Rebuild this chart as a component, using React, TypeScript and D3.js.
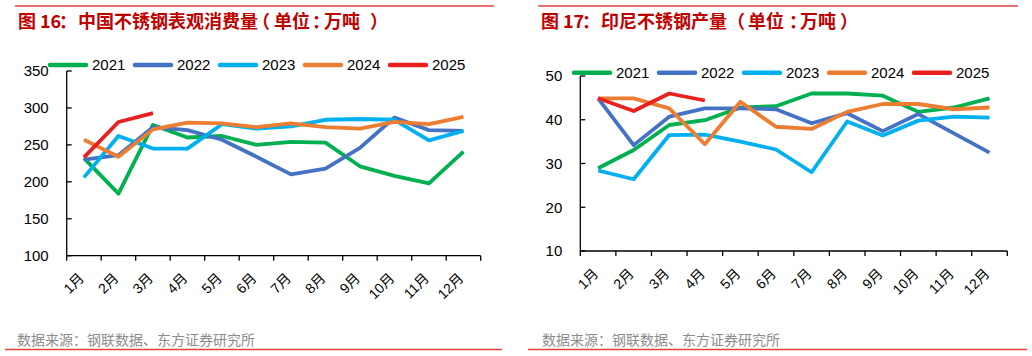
import React from "react";
import * as d3 from "d3";

const months = ["1月", "2月", "3月", "4月", "5月", "6月", "7月", "8月", "9月", "10月", "11月", "12月"];
const years = ["2021", "2022", "2023", "2024", "2025"];
const colors = ["#00b050", "#4472c4", "#00b0f0", "#ed7d31", "#e8201e"];

// 图16 中国不锈钢表观消费量
const cn2021 = [232, 184, 277, 260, 262, 250, 254, 253, 221, 208, 198, 241];
const cn2022 = [230, 236, 274, 270, 257, 234, 210, 218, 246, 287, 270, 269];
const cn2023 = [206, 262, 245, 245, 278, 272, 275, 284, 285, 284, 256, 269];
const cn2024 = [257, 234, 271, 280, 279, 274, 279, 274, 272, 281, 278, 288];
const cn2025 = [233, 281, 293];
const cnTicks = [100, 150, 200, 250, 300, 350];

// 图17 印尼不锈钢产量
const id2021 = [28.9, 33.1, 38.8, 39.9, 42.8, 43.1, 46.0, 46.0, 45.5, 41.8, 42.8, 44.9];
const id2022 = [44.9, 34.2, 40.7, 42.6, 42.6, 42.4, 39.2, 41.5, 37.4, 41.3, 36.9, 32.5];
const id2023 = [28.4, 26.4, 36.5, 36.6, 35.0, 33.2, 28.0, 39.6, 36.4, 39.8, 40.7, 40.5];
const id2024 = [44.9, 44.9, 42.6, 34.4, 44.1, 38.4, 37.9, 41.8, 43.6, 43.6, 42.4, 42.8];
const id2025 = [44.9, 42.0, 46.0, 44.4];
const idTicks = [10, 20, 30, 40, 50];

const titleParts1 = ["图", "16", "：", "中国不锈钢表观消费量", "（", "单位", "：", "万吨", "）"];
const titleParts2 = ["图", "17", "：", "印尼不锈钢产量", "（", "单位", "：", "万吨", "）"];
const footText = "数据来源：钢联数据、东方证券研究所";

const numFont = "'Liberation Sans', Arial, 'Noto Sans CJK SC', sans-serif";
const cjkFont = "'Noto Sans CJK SC', sans-serif";

type PanelProps = {
  titleParts: string[];
  titleXs: number[];
  lineX1: number;
  lineX2: number;
  footX: number;
  bLineX1: number;
  bLineX2: number;
  axisX1: number;
  axisX2: number;
  yTop: number;
  yBottom: number;
  domain: [number, number];
  ticks: number[];
  series: number[][];
  legendX: number;
  legendY: number;
};

function Panel(p: PanelProps) {
  const x = d3.scaleBand<string>().domain(months).range([p.axisX1, p.axisX2]).padding(0);
  const y = d3.scaleLinear().domain(p.domain).range([p.yBottom, p.yTop]);
  const line = d3
    .line<number>()
    .x((_, i) => (x(months[i]) as number) + x.bandwidth() / 2)
    .y((d) => y(d));
  const tickXs = months.map((m) => x(m) as number).concat([p.axisX2]);
  return (
    <g>
      <line x1={p.lineX1} x2={p.lineX2} y1={6} y2={6} stroke="#e57373" strokeWidth={2} />
      <g fontFamily={cjkFont} fontWeight="bold" fontSize={18} fill="#c00000">
        {p.titleParts.map((t, i) => (
          <text key={i} x={p.titleXs[i]} y={28}>
            {t}
          </text>
        ))}
      </g>
      {/* y axis */}
      <line x1={p.axisX1} x2={p.axisX1} y1={p.yTop} y2={p.yBottom} stroke="#000" strokeWidth={1.3} />
      {p.ticks.map((t) => (
        <g key={t}>
          <line x1={p.axisX1} x2={p.axisX1 + 5} y1={y(t)} y2={y(t)} stroke="#000" strokeWidth={1.3} />
          <text x={p.axisX1 - 18} y={y(t)} dy="0.35em" textAnchor="end" fontFamily={numFont} fontSize={15} fill="#000">
            {t}
          </text>
        </g>
      ))}
      {/* x axis */}
      <line x1={p.axisX1} x2={p.axisX2} y1={p.yBottom} y2={p.yBottom} stroke="#000" strokeWidth={1.3} />
      {tickXs.map((tx, i) => (
        <line key={i} x1={tx} x2={tx} y1={p.yBottom} y2={p.yBottom + 5} stroke="#000" strokeWidth={1.3} />
      ))}
      {months.map((m) => {
        const cx = (x(m) as number) + x.bandwidth() / 2 + 1;
        const cy = p.yBottom + 23.5;
        return (
          <text
            key={m}
            textAnchor="end"
            transform={`translate(${cx},${cy}) rotate(-45)`}
            fontFamily={numFont}
            fontSize={14}
            fill="#000"
          >
            {m}
          </text>
        );
      })}
      {/* series */}
      {p.series.map((s, i) => (
        <path key={i} d={line(s) || ""} fill="none" stroke={colors[i]} strokeWidth={3.8} strokeLinejoin="round" />
      ))}
      {/* legend */}
      {years.map((yr, i) => {
        const lx = p.legendX + i * 85;
        return (
          <g key={yr}>
            <line x1={lx + 2} x2={lx + 38} y1={p.legendY} y2={p.legendY} stroke={colors[i]} strokeWidth={4.5} strokeLinecap="round" />
            <text x={lx + 44} y={p.legendY} dy="0.36em" fontFamily={numFont} fontSize={15} fill="#000">
              {yr}
            </text>
          </g>
        );
      })}
      <text x={p.footX} y={345} fontFamily={cjkFont} fontSize={14} fill="#8c8c8c">
        {footText}
      </text>
      <line x1={p.bLineX1} x2={p.bLineX2} y1={349.5} y2={349.5} stroke="#e8413c" strokeWidth={1.3} />
    </g>
  );
}

export default function App() {
  return (
    <svg width={1032} height={356} style={{ position: "absolute", left: 0, top: 0, background: "#fff" }}>
      <rect width={1032} height={356} fill="#fff" />
      <Panel
        titleParts={titleParts1}
        titleXs={[18, 40, 59, 78, 252, 274, 312, 324, 370]}
        lineX1={15}
        lineX2={494}
        footX={17}
        bLineX1={5}
        bLineX2={502}
        axisX1={66.7}
        axisX2={480.7}
        yTop={71}
        yBottom={255.7}
        domain={[100, 350]}
        ticks={cnTicks}
        series={[cn2021, cn2022, cn2023, cn2024, cn2025]}
        legendX={48}
        legendY={65}
      />
      <Panel
        titleParts={titleParts2}
        titleXs={[541, 563, 582, 601, 727, 748, 789, 800, 840]}
        lineX1={538}
        lineX2={1018}
        footX={542}
        bLineX1={528}
        bLineX2={1027}
        axisX1={580.3}
        axisX2={1007.3}
        yTop={76}
        yBottom={251}
        domain={[10, 50]}
        ticks={idTicks}
        series={[id2021, id2022, id2023, id2024, id2025]}
        legendX={572}
        legendY={72.7}
      />
    </svg>
  );
}
